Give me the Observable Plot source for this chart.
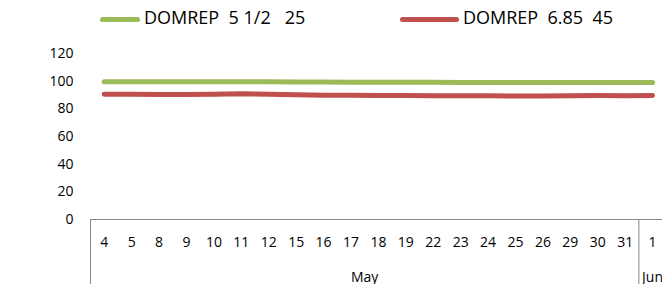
<!DOCTYPE html>
<html>
<head>
<meta charset="utf-8">
<script src="https://cdn.jsdelivr.net/npm/d3@7"></script>
<script src="https://cdn.jsdelivr.net/npm/@observablehq/plot@0.6"></script>
<style>
  html, body { margin: 0; padding: 0; background: #fff; overflow: hidden; width: 662px; height: 284px; }
  #legend { position: relative; height: 36px; font-family: "Open Sans", sans-serif; font-size: 18px; color: #000; }
  .sw { position: absolute; top: 17px; height: 5px; border-radius: 3px; }
  .lab { position: absolute; top: 5px; white-space: pre; line-height: 24px; }
  #chart { display: block; width: 662px; height: 248px; overflow: hidden; }
  #chart svg { max-width: none !important; width: 700px !important; height: 248px !important; }
</style>
</head>
<body>
<div id="legend"></div>
<div id="chart"></div>
<script>
// Data
const dates = ["4","5","8","9","10","11","12","15","16","17","18","19","22","23","24","25","26","29","30","31","1"];
const months = ["May","May","May","May","May","May","May","May","May","May","May","May","May","May","May","May","May","May","May","May","Jun"];
const seriesNames = ["DOMREP  5 1/2   25", "DOMREP  6.85  45"];
const green = [99.5,99.5,99.5,99.5,99.5,99.5,99.5,99.4,99.4,99.3,99.3,99.2,99.2,99.1,99.1,99.0,99.0,99.0,99.0,99.0,99.0];
const red = [90.6,90.5,90.4,90.4,90.6,90.9,90.6,90.1,89.9,89.8,89.6,89.6,89.5,89.5,89.4,89.3,89.3,89.4,89.6,89.5,89.6];
const yTicks = [0, 20, 40, 60, 80, 100, 120];
const colors = ["#9BBB59", "#C0504D"];

// Legend
const legend = document.getElementById("legend");
const legendPos = [{sw: 100, w: 40, lab: 144}, {sw: 400, w: 59, lab: 463}];
seriesNames.forEach((name, k) => {
  const sw = document.createElement("div");
  sw.className = "sw";
  sw.style.left = legendPos[k].sw + "px";
  sw.style.width = legendPos[k].w + "px";
  sw.style.background = colors[k];
  legend.appendChild(sw);
  const lab = document.createElement("div");
  lab.className = "lab";
  lab.style.left = legendPos[k].lab + "px";
  lab.textContent = name;
  legend.appendChild(lab);
});

const rows = dates.map((d, i) => ({i, date: d, month: months[i], green: green[i], red: red[i]}));

// Month groups: boundaries and centers
const groups = d3.groups(rows, d => d.month).map(([m, rs]) => ({
  month: m,
  start: d3.min(rs, r => r.i) - 0.5,
  center: d3.mean(rs, r => r.i)
}));
const boundaries = groups.map(g => g.start);
const centers = groups.map(g => g.center);
const centerLabel = new Map(groups.map(g => [g.center, g.month]));

const chart = Plot.plot({
  width: 700,
  height: 248,
  marginTop: 17,
  marginBottom: 65,
  marginLeft: 90,
  marginRight: 6.8,
  style: {fontFamily: "Open Sans, sans-serif", fontSize: "14px", color: "#000", background: "#fff", overflow: "visible"},
  x: {type: "linear", domain: [-0.5, 21.5]},
  y: {domain: [0, 120]},
  marks: [
    Plot.axisY({ticks: yTicks, tickSize: 0, tickPadding: 17, label: null, fill: "#000"}),
    Plot.axisX({ticks: boundaries, tickSize: 70, tickFormat: () => "", stroke: "#888", label: null}),
    Plot.axisX({ticks: rows.map(r => r.i), tickSize: 0, tickPadding: 18, tickFormat: i => dates[i], label: null, fill: "#000"}),
    Plot.axisX({ticks: centers, tickSize: 0, tickPadding: 53, tickFormat: c => centerLabel.get(c), label: null, fill: "#000"}),
    Plot.ruleY([0], {stroke: "#888", strokeWidth: 1}),
    Plot.lineY(rows, {x: "i", y: "green", stroke: colors[0], strokeWidth: 5, strokeLinecap: "round", strokeLinejoin: "round"}),
    Plot.lineY(rows, {x: "i", y: "red", stroke: colors[1], strokeWidth: 5, strokeLinecap: "round", strokeLinejoin: "round"})
  ]
});
document.getElementById("chart").appendChild(chart);
</script>
</body>
</html>
